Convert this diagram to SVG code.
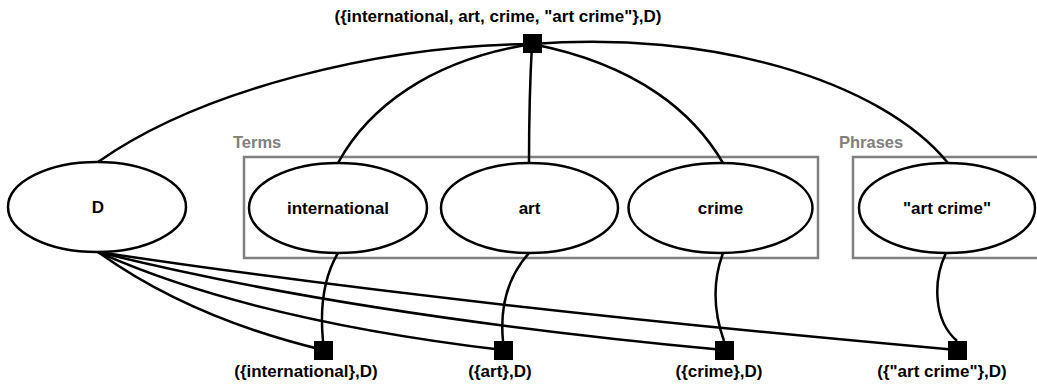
<svg xmlns="http://www.w3.org/2000/svg" width="1037" height="388" viewBox="0 0 1037 388">
<style>
.e{fill:#fff;stroke:#000;stroke-width:2.5}
.c{fill:none;stroke:#000;stroke-width:2.5}
.b{fill:none;stroke:#808080;stroke-width:2.5}
.sq{fill:#000}
text{font-family:"Liberation Sans",Arial,sans-serif;font-weight:bold;font-size:17px;text-anchor:middle;fill:#000}
.g{fill:#808080;text-anchor:start;font-size:16.5px}
</style>
<g id="groups">
<rect class="b" x="244" y="157" width="574" height="101"/>
<text class="g" x="233" y="148">Terms</text>
<rect class="b" x="853" y="157" width="200" height="101"/>
<text class="g" x="839" y="148">Phrases</text>
</g>
<g id="connectors">
<path class="c" d="M98,162 C200,90 380,45 532,44"/>
<path class="c" d="M338,163 C368,108 430,60 532,44"/>
<path class="c" d="M529,163 C529,120 530,80 532,44"/>
<path class="c" d="M723,163 C695,115 640,65 532,44"/>
<path class="c" d="M948,163 C880,80 710,30 532,44"/>
<path class="c" d="M98,252 Q190,318 323,350"/>
<path class="c" d="M98,252 Q250,320 503,350"/>
<path class="c" d="M98,252 Q350,315 724,350"/>
<path class="c" d="M98,252 Q450,305 957,350"/>
<path class="c" d="M338,253 C322,280 320,310 323,341"/>
<path class="c" d="M529,253 C505,280 500,310 503,341"/>
<path class="c" d="M723,253 C713,280 713,310 724,341"/>
<path class="c" d="M946,253 C933,280 933,320 957,341"/>
</g>
<g id="node-all">
<rect class="sq" x="523" y="34" width="19" height="19"/>
<text x="498" y="22">({international, art, crime, "art crime"},D)</text>
</g>
<g id="node-D">
<ellipse class="e" cx="97" cy="207" rx="89" ry="45"/>
<text x="98" y="213">D</text>
</g>
<g id="node-international">
<ellipse class="e" cx="338" cy="208" rx="89" ry="45"/>
<text x="338" y="214">international</text>
</g>
<g id="node-art">
<ellipse class="e" cx="529.5" cy="208" rx="88.5" ry="45"/>
<text x="529.5" y="214">art</text>
</g>
<g id="node-crime">
<ellipse class="e" cx="720.5" cy="208" rx="92" ry="45"/>
<text x="720.5" y="214">crime</text>
</g>
<g id="node-artcrime">
<ellipse class="e" cx="947" cy="208" rx="88" ry="45"/>
<text x="947" y="214">"art crime"</text>
</g>
<g id="node-q-international">
<rect class="sq" x="314" y="341" width="19" height="19"/>
<text x="306" y="377">({international},D)</text>
</g>
<g id="node-q-art">
<rect class="sq" x="494" y="341" width="19" height="19"/>
<text x="500" y="377">({art},D)</text>
</g>
<g id="node-q-crime">
<rect class="sq" x="715" y="341" width="19" height="19"/>
<text x="719" y="377">({crime},D)</text>
</g>
<g id="node-q-artcrime">
<rect class="sq" x="948" y="341" width="19" height="19"/>
<text x="942" y="377">({"art crime"},D)</text>
</g>
</svg>
